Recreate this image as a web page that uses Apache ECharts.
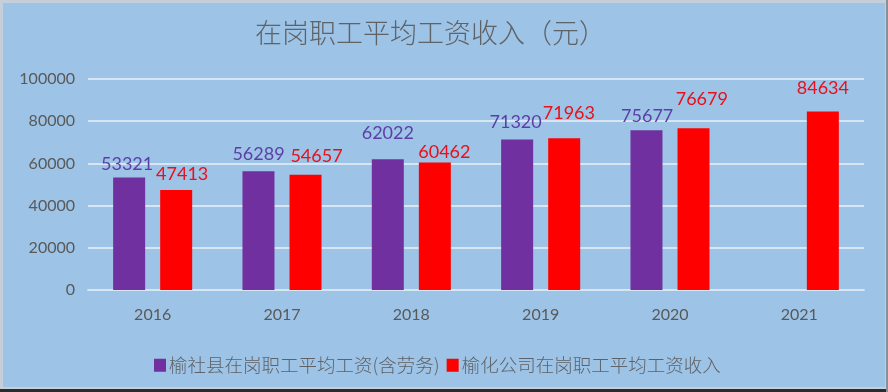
<!DOCTYPE html>
<html>
<head>
<meta charset="utf-8">
<script src="https://cdn.jsdelivr.net/npm/echarts@6/dist/echarts.min.js"></script>
<style>
html,body{margin:0;padding:0;background:#C5CFD9;}
#c{width:888px;height:392px;}
</style>
</head>
<body>
<div id="c"></div>
<script>
// ---- data ----
const years = ['2016', '2017', '2018', '2019', '2020', '2021'];
const countyWage = [53321, 56289, 62022, 71320, 75677, null];
const companyWage = [47413, 54657, 60462, 71963, 76679, 84634];
const seriesNames = ['榆社县在岗职工平均工资(含劳务)', '榆化公司在岗职工平均工资收入'];
const yTicks = [0, 20000, 40000, 60000, 80000, 100000];

// ---- label nudges (layout only, as placed in the original) ----
const countyLabelShift = [[-2, -4], [0, -8], [0, -17], [-1.5, -8], [0.7, -4.7], [0, 0]];
const companyLabelShift = [[6, -6.3], [11, -9], [9.5, -1.3], [4.7, -16], [8.3, -20.3], [0, -14]];

function build(values, shifts) {
  return values.map((v, i) => v == null ? null : ({
    value: v,
    label: { offset: shifts[i] }
  }));
}

const chart = echarts.init(document.getElementById('c'), null, { renderer: 'canvas' });
const numFont = 'Lato, Roboto, sans-serif';
const cjkFont = '"Noto Sans CJK SC Light", "Noto Sans CJK SC", sans-serif';

chart.setOption({
  animation: false,
  backgroundColor: '#C5CFD9',
  graphic: [
    { type: 'rect', z: -10, silent: true, shape: { x: 3, y: 3, width: 882, height: 384 }, style: { fill: '#9DC3E6' } },
    { type: 'rect', z: -10, silent: true, shape: { x: 0, y: 389, width: 888, height: 3 }, style: { fill: '#2b2b2b' } },
    { type: 'rect', z: -10, silent: true, shape: { x: 886, y: 0, width: 2, height: 392 }, style: { fill: '#8a8f96' } }
  ],
  title: {
    text: '在岗职工平均工资收入（元）',
    left: 255,
    top: 19,
    padding: 0,
    textStyle: { fontFamily: cjkFont, fontSize: 27, fontWeight: 200, color: '#5f6266' }
  },
  legend: {
    left: 149,
    top: 351,
    itemWidth: 12,
    itemHeight: 13,
    itemGap: 7,
    icon: 'rect',
    textStyle: { fontFamily: cjkFont, fontSize: 18.5, fontWeight: 200, color: '#5f6266', padding: [0, 0, 0, -2] },
    data: seriesNames
  },
  grid: { left: 88, right: 24, top: 79, bottom: 102, containLabel: false },
  xAxis: {
    type: 'category',
    data: years,
    axisLine: { show: true, lineStyle: { color: '#D8E5F2', width: 2 } },
    axisTick: { show: false },
    axisLabel: { margin: 17, fontFamily: numFont, fontSize: 16, color: '#595959' }
  },
  yAxis: {
    type: 'value',
    min: yTicks[0],
    max: yTicks[yTicks.length - 1],
    interval: yTicks[1] - yTicks[0],
    axisLine: { show: false },
    axisTick: { show: false },
    splitLine: { lineStyle: { color: '#D8E5F2', width: 2 } },
    axisLabel: { margin: 13, fontFamily: numFont, fontSize: 16, color: '#595959', formatter: v => String(v) }
  },
  series: [
    {
      name: seriesNames[0],
      type: 'bar',
      barWidth: 32,
      barGap: '47%',
      itemStyle: { color: '#7030A0' },
      label: { show: true, position: 'top', distance: 0, fontFamily: numFont, fontSize: 18, color: '#5B3FA6' },
      data: build(countyWage, countyLabelShift)
    },
    {
      name: seriesNames[1],
      type: 'bar',
      barWidth: 32,
      barGap: '47%',
      itemStyle: { color: '#FF0000' },
      label: { show: true, position: 'top', distance: 0, fontFamily: numFont, fontSize: 18, color: '#E8101A' },
      data: build(companyWage, companyLabelShift)
    }
  ]
});
</script>
</body>
</html>
